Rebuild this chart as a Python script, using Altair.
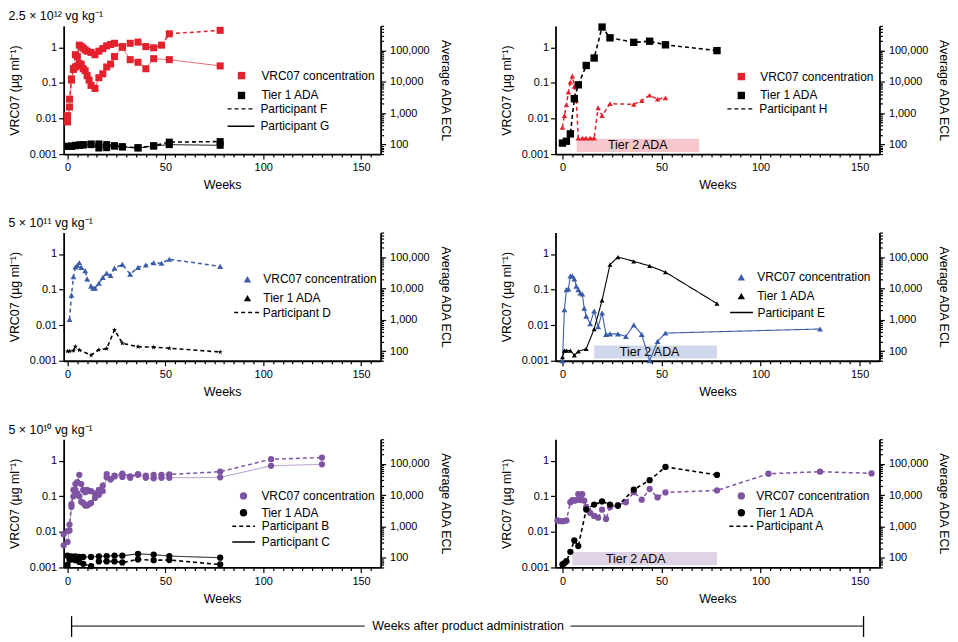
import altair as alt
import pandas as pd

FONT = "Liberation Sans"

# ---------------- data ----------------
# Panel 1: 2.5e12 vg/kg, participants F (dashed) and G (solid)
F_VRC_WEEKS = [0, 1, 2, 3, 4, 5, 6, 7, 8, 9, 10, 12, 14, 16, 18, 20, 22, 24, 28, 32, 36, 40, 44, 48, 52, 78]
F_VRC = [0.012, 0.035, 0.13, 0.25, 0.62, 0.55, 1.15, 1.05, 0.95, 0.85, 0.78, 0.72, 0.62, 0.78, 0.92, 1.1,
         1.2, 1.3, 1.05, 1.3, 1.4, 1.05, 0.97, 1.15, 2.4, 3.0]
G_VRC_WEEKS = [0, 1, 2, 3, 4, 5, 6, 7, 8, 9, 10, 11, 12, 14, 16, 18, 20, 22, 24, 28, 32, 36, 40, 44, 52, 78]
G_VRC = [0.008, 0.021, 0.12, 0.24, 0.28, 0.3, 0.35, 0.33, 0.25, 0.22, 0.16, 0.12, 0.085, 0.07, 0.14, 0.18,
         0.28, 0.34, 0.55, 1.0, 0.45, 0.38, 0.25, 0.48, 0.45, 0.3]
FG_ADA_WEEKS = [0, 2, 4, 6, 8, 12, 16, 20, 24, 28, 36, 44, 52, 78]
F_ADA = [88, 90, 95, 98, 100, 105, 105, 100, 92, 85, 80, 92, 120, 125]
G_ADA = [88, 88, 92, 95, 97, 100, 78, 80, 90, 85, 78, 90, 100, 95]

# Panel 2: participant H
H_VRC_WEEKS = [0, 1, 2, 3, 4, 5, 6, 6.5, 7, 8, 10, 12, 14, 16, 18, 20, 24, 36, 40, 44, 48, 52]
H_VRC = [0.0056, 0.012, 0.024, 0.055, 0.105, 0.155, 0.08, 0.04, 0.033, 0.0028, 0.0028, 0.0028, 0.0028,
         0.0028, 0.02, 0.012, 0.026, 0.025, 0.032, 0.045, 0.035, 0.038]
H_ADA_WEEKS = [0, 2, 4, 6, 8, 12, 16, 20, 24, 36, 44, 52, 78]
H_ADA = [112, 128, 220, 2900, 8000, 33000, 57000, 550000, 250000, 180000, 195000, 150000, 98000]
H_TIER2 = [7.2, 69]
H_TIER2_LABEL_WEEK = 38

# Panel 3: 5e11 vg/kg, participant D
D_VRC_WEEKS = [1, 2, 3, 4, 5, 6, 7, 9, 10, 12, 13, 14, 16, 18, 20, 22, 24, 28, 32, 36, 40, 44, 48, 52, 78]
D_VRC = [0.0145, 0.07, 0.23, 0.43, 0.48, 0.57, 0.42, 0.34, 0.2, 0.125, 0.11, 0.11, 0.15, 0.22, 0.29, 0.25,
         0.4, 0.51, 0.27, 0.42, 0.49, 0.57, 0.55, 0.71, 0.45]
D_ADA_WEEKS = [0, 1, 3, 4, 6, 12, 16, 20, 24, 28, 36, 44, 52, 78]
D_ADA = [100, 100, 105, 140, 110, 75, 112, 122, 480, 180, 140, 135, 125, 95]

# Panel 4: participant E
E_VRC_WEEKS = [0, 1, 2, 3, 4, 5, 6, 7, 8, 9, 10, 11, 12, 14, 16, 18, 20, 22, 24, 28, 32, 36, 40, 44, 48, 52, 130]
E_VRC = [0.001, 0.027, 0.1, 0.105, 0.24, 0.24, 0.2, 0.125, 0.1, 0.08, 0.075, 0.03, 0.018, 0.011, 0.025,
         0.009, 0.022, 0.0055, 0.0057, 0.0057, 0.0048, 0.0102, 0.0055, 0.001, 0.0035, 0.006, 0.0078]
E_ADA_WEEKS = [0, 1, 2, 4, 6, 8, 12, 16, 20, 24, 28, 36, 44, 52, 78]
E_ADA = [65, 105, 105, 105, 75, 100, 120, 510, 4200, 57000, 100000, 73000, 52000, 33000, 3300]
E_TIER2 = [16, 78]
E_TIER2_LABEL_WEEK = 44

# Panel 5: 5e10 vg/kg, participants B (dashed) and C (solid)
BC_VRC_WEEKS = [-2, 0, 1, 2, 3, 4, 5, 6, 7, 8, 9, 10, 11, 12, 14, 16, 18, 20, 22, 24, 28, 32, 36, 40, 44,
                48, 52, 78, 104, 130]
B_VRC = [0.0085, 0.0105, 0.016, 0.06, 0.15, 0.22, 0.25, 0.4, 0.22, 0.15, 0.13, 0.15, 0.14, 0.14, 0.12,
         0.15, 0.2, 0.42, 0.3, 0.38, 0.43, 0.36, 0.42, 0.38, 0.4, 0.4, 0.41, 0.49, 1.1, 1.22]
C_VRC = [0.0042, 0.0052, 0.011, 0.05, 0.1, 0.15, 0.12, 0.1, 0.07, 0.065, 0.055, 0.055, 0.06, 0.065, 0.09,
         0.11, 0.14, 0.34, 0.3, 0.36, 0.35, 0.33, 0.4, 0.33, 0.32, 0.33, 0.33, 0.34, 0.72, 0.79]
B_ADA_WEEKS = [0, 1, 2, 4, 6, 8, 12, 16, 20, 24, 28, 36, 44, 52, 78]
B_ADA = [60, 88, 90, 85, 75, 65, 55, 78, 78, 78, 72, 90, 85, 86, 62]
C_ADA_WEEKS = [0, 2, 4, 6, 8, 12, 16, 20, 24, 28, 36, 44, 52, 78]
C_ADA = [118, 112, 112, 108, 108, 108, 112, 115, 118, 118, 135, 128, 115, 102]

# Panel 6: participant A
A_VRC_WEEKS = [-2.5, -1, 0.5, 2, 4, 5, 6, 7, 8, 9, 10, 11, 12, 13, 14, 16, 18, 20, 22, 24, 28, 32, 36, 40,
               44, 48, 52, 78, 104, 130, 156]
A_VRC = [0.021, 0.02, 0.02, 0.021, 0.068, 0.078, 0.075, 0.078, 0.115, 0.078, 0.115, 0.075, 0.05, 0.04,
         0.034, 0.028, 0.025, 0.042, 0.023, 0.049, 0.056, 0.068, 0.13, 0.08, 0.16, 0.093, 0.128, 0.146,
         0.43, 0.49, 0.44]
A_ADA_WEEKS = [0, 1, 2, 4, 6, 8, 12, 16, 20, 24, 28, 36, 44, 52, 78]
A_ADA = [62, 68, 79, 157, 360, 240, 3500, 5000, 6300, 5000, 4600, 15000, 30000, 79000, 44000]
A_TIER2 = [5, 78]
A_TIER2_LABEL_WEEK = 37

TIER2_Y = [0.00115, 0.0027]
TIER2_LABEL_Y = 0.00176

DOSE_TITLES = ["2.5 × 10¹² vg kg⁻¹", "5 × 10¹¹ vg kg⁻¹", "5 × 10¹⁰ vg kg⁻¹"]
SERIES = ["VRC07 concentration", "Tier 1 ADA"]
BRACKET_TEXT = "Weeks after product administration"

# ---------------- style ----------------
RED = "#e3202c"
BLUE = "#3a5ba8"
PURPLE = "#7e53a1"
PINK = "#f6c8ce"
LIGHTBLUE = "#cfd7eb"
LAVENDER = "#dfd3e6"
DASHED = [4, 3]
SOLID = [1, 0]
STAR = ("M0,-1L0.2245,-0.309L0.951,-0.309L0.363,0.118L0.588,0.809L0,0.382L-0.588,0.809"
        "L-0.363,0.118L-0.951,-0.309L-0.2245,-0.309Z")
WIDE_STROKE = "M-3,0L3,0"

ADA_TICKS = [k * 10 ** e for e in range(1, 6) for k in range(1, 10) if 50 <= k * 10 ** e <= 600000]
MAJOR_ADA = "indexof([100, 1000, 10000, 100000], datum.value) >= 0"

X_AXIS = alt.Axis(
    title="Weeks", values=list(range(0, 160, 5)),
    labelExpr="datum.value % 50 === 0 ? datum.label : ''",
    tickSize={"condition": {"test": "datum.value % 50 === 0", "value": 5}, "value": 3},
    labelPadding=3, titlePadding=6, labelFlush=False, labelOverlap=False, titleColor="black",
)
YL_AXIS = alt.Axis(title="VRC07 (µg ml⁻¹)", orient="left", values=[0.001, 0.01, 0.1, 1], format="~g",
                   tickSize=5, labelPadding=2, titlePadding=8, titleColor="black")
YR_AXIS = alt.Axis(
    title="Average ADA ECL", orient="right", values=ADA_TICKS, titleAngle=90, titleColor="black",
    labelExpr=f"{MAJOR_ADA} ? format(datum.value, ',') : ''",
    tickSize={"condition": {"test": MAJOR_ADA, "value": 5}, "value": 3},
    labelPadding=4, titlePadding=9, labelOverlap=False,
)

LEFT_DOM, LEFT_W = [-2, 160], 319
RIGHT_DOM, RIGHT_W = [-3.5, 160], 326
H = 129


def frame(weeks, values, participant, series):
    return pd.DataFrame({"week": weeks, "value": values, "participant": participant, "series": series})


def bracket_layers():
    # "Weeks after product administration" bracket under the bottom row (drawn from the bottom-left panel)
    one = pd.DataFrame({"a": [0]})
    yl = H + 59
    return [
        alt.Chart(one).mark_rule(color="black", strokeWidth=1).encode(
            x=alt.value(8), x2=alt.value(303), y=alt.value(yl)),
        alt.Chart(one).mark_rule(color="black", strokeWidth=1).encode(
            x=alt.value(510), x2=alt.value(805), y=alt.value(yl)),
        alt.Chart(one).mark_rule(color="black", strokeWidth=1.3).encode(
            x=alt.value(8), y=alt.value(yl - 10), y2=alt.value(yl + 11)),
        alt.Chart(one).mark_rule(color="black", strokeWidth=1.3).encode(
            x=alt.value(805), y=alt.value(yl - 10), y2=alt.value(yl + 11)),
        alt.Chart(one).mark_text(fontSize=12.5, font=FONT, color="black").encode(
            x=alt.value(407), y=alt.value(yl), text=alt.value(BRACKET_TEXT)),
    ]


def panel(xdom, width, color, vrc_shape, ada_shape, legend_shape, vrc, ada, styles, leg,
          title=None, tier2=None, vsize=45, asize=45, extra=()):
    parts = list(styles.keys())
    sx, tx, cy1, g1, cy2, g2, dl = leg
    w = dl / 3.0
    dash_scale = alt.Scale(domain=parts, range=[styles[p]["dash"] for p in parts])
    dash_legend = alt.Legend(title=None, orient="none", legendX=sx - w / 2, legendY=cy2 - 5.5,
                             symbolType=WIDE_STROKE, symbolSize=w * w, symbolStrokeColor="black",
                             symbolFillColor="transparent",
                             symbolStrokeWidth=1.5, labelOffset=tx - sx - w / 2, rowPadding=g2 - 10.5,
                             padding=0, labelFontSize=12)
    color_scale = alt.Scale(domain=SERIES, range=[color, "black"])
    color_legend = alt.Legend(title=None, orient="none", legendX=sx - 4, legendY=cy1 - 6,
                              symbolType=legend_shape, symbolSize=55, labelOffset=tx - (sx + 4),
                              rowPadding=g1 - 10, padding=0, symbolStrokeWidth=0, symbolOpacity=1,
                              labelFontSize=12)
    xscale = alt.Scale(domain=xdom, nice=False, zero=False)
    x = alt.X("week:Q", scale=xscale, axis=X_AXIS)
    lscale = alt.Scale(type="log", domain=[0.001, 4], nice=False)
    rscale = alt.Scale(type="log", domain=[50, 600000], nice=False)

    left = []
    if tier2 is not None:
        (x1, x2), lab_w, fill = tier2
        tdf = pd.DataFrame({"x1": [x1], "x2": [x2], "y1": [TIER2_Y[0]], "y2": [TIER2_Y[1]],
                            "lx": [lab_w], "ly": [TIER2_LABEL_Y], "t": ["Tier 2 ADA"]})
        left.append(alt.Chart(tdf).mark_rect(color=fill).encode(
            x=alt.X("x1:Q", scale=xscale, axis=X_AXIS), x2="x2:Q",
            y=alt.Y("y1:Q", scale=lscale, axis=YL_AXIS), y2="y2:Q"))
        left.append(alt.Chart(tdf).mark_text(fontSize=12.5, font=FONT, color="black").encode(
            x=alt.X("lx:Q", scale=xscale, axis=X_AXIS),
            y=alt.Y("ly:Q", scale=lscale, axis=YL_AXIS), text="t:N"))
    vframes = []
    for p, wks, vals in vrc:
        d = frame(wks, vals, p, SERIES[0])
        vframes.append(d)
        st = styles[p]
        left.append(alt.Chart(d).mark_line(color=color, strokeWidth=st["vw"], opacity=st["vo"]).encode(
            x=x, y=alt.Y("value:Q", scale=lscale, axis=YL_AXIS),
            strokeDash=alt.StrokeDash("participant:N", scale=dash_scale, legend=dash_legend)))
    left.append(alt.Chart(pd.concat(vframes)).mark_point(filled=True, size=vsize, opacity=1).encode(
        x=x, y=alt.Y("value:Q", scale=lscale, axis=YL_AXIS), shape=alt.value(vrc_shape),
        color=alt.Color("series:N", scale=color_scale, legend=color_legend)))

    right = []
    aframes = []
    for p, wks, vals in ada:
        d = frame(wks, vals, p, SERIES[1])
        aframes.append(d)
        st = styles[p]
        right.append(alt.Chart(d).mark_line(color="black", strokeWidth=st["aw"]).encode(
            x=x, y=alt.Y("value:Q", scale=rscale, axis=YR_AXIS),
            strokeDash=alt.StrokeDash("participant:N", scale=dash_scale, legend=dash_legend)))
    right.append(alt.Chart(pd.concat(aframes)).mark_point(filled=True, size=asize, opacity=1).encode(
        x=x, y=alt.Y("value:Q", scale=rscale, axis=YR_AXIS), shape=alt.value(ada_shape),
        color=alt.Color("series:N", scale=color_scale, legend=color_legend)))

    props = dict(width=width, height=H)
    if title:
        props["title"] = alt.TitleParams(text=title, anchor="start", frame="bounds", offset=-3,
                                         fontSize=12.5, fontWeight="normal", font=FONT)
    return alt.layer(alt.layer(*left), alt.layer(*right), *extra).resolve_scale(
        y="independent").properties(**props)


p1 = panel(LEFT_DOM, LEFT_W, RED, "square", "square", "square",
           [("Participant F", F_VRC_WEEKS, F_VRC), ("Participant G", G_VRC_WEEKS, G_VRC)],
           [("Participant F", FG_ADA_WEEKS, F_ADA), ("Participant G", FG_ADA_WEEKS, G_ADA)],
           {"Participant F": dict(dash=DASHED, vw=1.5, vo=1, aw=1.6),
            "Participant G": dict(dash=SOLID, vw=1, vo=0.7, aw=1)},
           (177, 195, 50, 18, 83, 16, 27), title=DOSE_TITLES[0], vsize=50, asize=50)
p2 = panel(RIGHT_DOM, RIGHT_W, RED, "triangle-up", "square", "square",
           [("Participant H", H_VRC_WEEKS, H_VRC)],
           [("Participant H", H_ADA_WEEKS, H_ADA)],
           {"Participant H": dict(dash=DASHED, vw=1.5, vo=1, aw=1.6)},
           (185, 202, 51, 17, 83, 16, 27), tier2=(H_TIER2, H_TIER2_LABEL_WEEK, PINK), vsize=30, asize=55)
p3 = panel(LEFT_DOM, LEFT_W, BLUE, "triangle-up", STAR, "triangle-up",
           [("Participant D", D_VRC_WEEKS, D_VRC)],
           [("Participant D", D_ADA_WEEKS, D_ADA)],
           {"Participant D": dict(dash=DASHED, vw=1.5, vo=1, aw=1.6)},
           (183, 197, 47, 17, 80, 16, 26), title=DOSE_TITLES[1], vsize=35, asize=30)
p4 = panel(RIGHT_DOM, RIGHT_W, BLUE, "triangle-up", "triangle-up", "triangle-up",
           [("Participant E", E_VRC_WEEKS, E_VRC)],
           [("Participant E", E_ADA_WEEKS, E_ADA)],
           {"Participant E": dict(dash=SOLID, vw=1.1, vo=1, aw=1.1)},
           (185, 199, 45, 17, 80, 16, 23), tier2=(E_TIER2, E_TIER2_LABEL_WEEK, LIGHTBLUE), vsize=35, asize=25)
p5 = panel(LEFT_DOM, LEFT_W, PURPLE, "circle", "circle", "circle",
           [("Participant B", BC_VRC_WEEKS, B_VRC), ("Participant C", BC_VRC_WEEKS, C_VRC)],
           [("Participant B", B_ADA_WEEKS, B_ADA), ("Participant C", C_ADA_WEEKS, C_ADA)],
           {"Participant B": dict(dash=DASHED, vw=1.5, vo=1, aw=1.6),
            "Participant C": dict(dash=SOLID, vw=1, vo=0.6, aw=1)},
           (179, 195, 57, 15, 87, 14.5, 23), title=DOSE_TITLES[2], vsize=40, asize=40,
           extra=bracket_layers())
p6 = panel(RIGHT_DOM, RIGHT_W, PURPLE, "circle", "circle", "circle",
           [("Participant A", A_VRC_WEEKS, A_VRC)],
           [("Participant A", A_ADA_WEEKS, A_ADA)],
           {"Participant A": dict(dash=DASHED, vw=1.5, vo=1, aw=1.6)},
           (185, 198, 57, 15, 87, 15, 24), tier2=(A_TIER2, A_TIER2_LABEL_WEEK, LAVENDER), vsize=40, asize=40)

SP = 557 - (62 + LEFT_W)
chart = alt.concat(p1, p2, p3, p4, p5, p6, columns=2, spacing={"row": 79, "column": SP}, bounds="flush")
chart = chart.resolve_scale(color="independent", strokeDash="independent").resolve_legend(
    color="independent", strokeDash="independent").properties(padding=0)

chart = chart.configure_axis(
    labelFont=FONT, titleFont=FONT, labelFontSize=11, titleFontSize=12.5, titleFontWeight="normal",
    labelColor="black", titleColor="black", domainColor="black", tickColor="black",
    domainWidth=1.8, tickWidth=1.2, grid=False,
).configure_view(stroke=None).configure_legend(
    labelFont=FONT, labelFontSize=12, labelColor="black",
).configure_title(font=FONT, color="black")

chart.save("out.html", embed_options={"renderer": "svg", "actions": False})
